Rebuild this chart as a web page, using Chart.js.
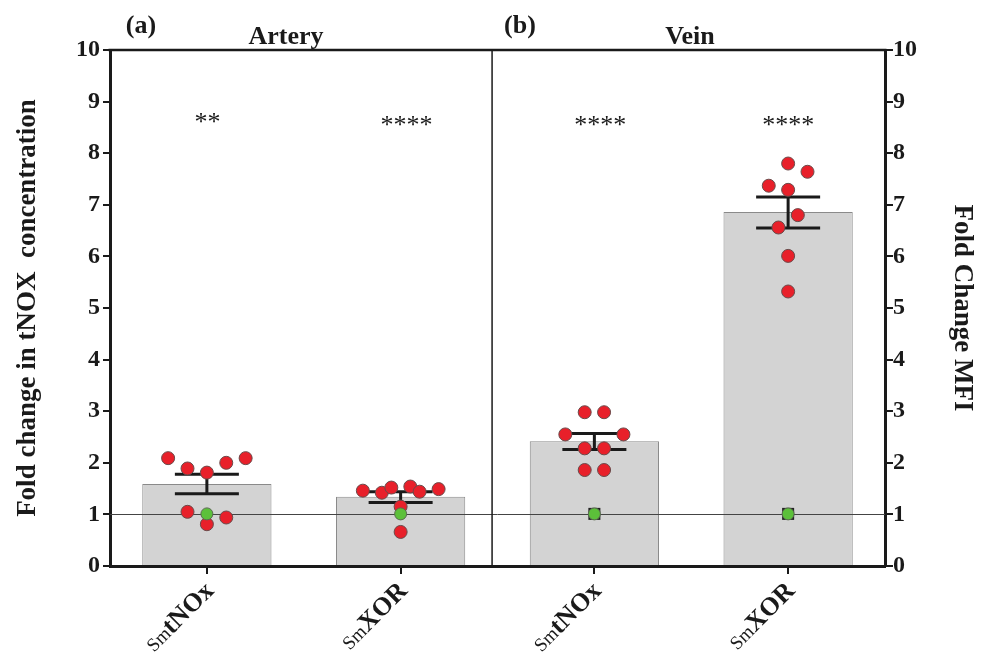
<!DOCTYPE html>
<html><head><meta charset="utf-8">
<script src="https://cdn.jsdelivr.net/npm/chart.js@4.4.0/dist/chart.umd.min.js"></script>
<style>html,body{margin:0;padding:0;background:#fff}#wrap{width:990px;height:657px}</style>
</head><body><div id="wrap"><canvas id="c" width="990" height="657"></canvas></div>
<script>
// ---- data ----
const categories = ['SmtNOx', 'SmXOR', 'SmtNOx', 'SmXOR'];
const labelSmall = ['Sm', 'Sm', 'Sm', 'Sm'];
const labelBold = ['tNOx', 'XOR', 'tNOx', 'XOR'];
const barMeans = [1.59, 1.34, 2.42, 6.86];
const errUpper = [1.78, 1.44, 2.57, 7.15];
const errLower = [1.40, 1.23, 2.26, 6.55];
// individual points: offsets from category centre, and values
const red0Off = [-0.2, -0.1, 0, 0.1, 0.2, -0.1, 0, 0.1];
const red0Y   = [2.09, 1.89, 1.81, 2.00, 2.09, 1.05, 0.81, 0.94];
const red1Off = [-0.195, -0.097, -0.048, 0.05, 0.098, 0.196, 0, 0];
const red1Y   = [1.46, 1.42, 1.52, 1.54, 1.44, 1.49, 1.15, 0.66];
const red2Off = [-0.05, 0.05, -0.15, 0.15, -0.05, 0.05, -0.05, 0.05];
const red2Y   = [2.98, 2.98, 2.55, 2.55, 2.28, 2.28, 1.86, 1.86];
const red3Off = [0, 0.1, -0.1, 0, 0.05, -0.05, 0, 0];
const red3Y   = [7.80, 7.64, 7.37, 7.29, 6.80, 6.56, 6.01, 5.32];
const greenX = [0, 1, 2, 3];
const greenY = [1.01, 1.01, 1.01, 1.01];
const squareX = [2, 3];
const squareY = [1.01, 1.01];
const refLineY = 1;
const dividerX = 1.472;
const starLabels = ['**', '****', '****', '****'];
const starX = [0.003, 1.03, 2.03, 3.0];
const starY = [8.68, 8.62, 8.62, 8.62];
const panelTags = ['(a)', '(b)'];
const panelNames = ['Artery', 'Vein'];
const leftTitle = 'Fold change in tNOX  concentration';
const rightTitle = 'Fold Change MFI';

// ---- build ----
const redGroups = [[red0Off, red0Y], [red1Off, red1Y], [red2Off, red2Y], [red3Off, red3Y]];
const redPoints = [];
redGroups.forEach((g, i) => g[0].forEach((o, k) => redPoints.push({x: i + o, y: g[1][k]})));
const greenPoints = greenX.map((x, i) => ({x, y: greenY[i]}));
const squarePoints = squareX.map((x, i) => ({x, y: squareY[i]}));

const INK = '#1a1a1a';
const SERIF = '"Liberation Serif", "Times New Roman", serif';

const overlay = {
  id: 'overlay',
  afterDatasetDraw(chart, args) {
    if (args.index !== 0) return;
    const ctx = chart.ctx, xs = chart.scales.x2, ys = chart.scales.y, a = chart.chartArea;
    ctx.save();
    // reference line
    ctx.strokeStyle = '#444';
    ctx.lineWidth = 1;
    const yr = Math.round(ys.getPixelForValue(refLineY)) + 0.5;
    ctx.beginPath(); ctx.moveTo(a.left, yr); ctx.lineTo(a.right, yr); ctx.stroke();
    // error bars
    ctx.strokeStyle = INK;
    ctx.lineWidth = 3;
    for (let i = 0; i < barMeans.length; i++) {
      const px = xs.getPixelForValue(i);
      const yu = ys.getPixelForValue(errUpper[i]);
      const yl = ys.getPixelForValue(errLower[i]);
      ctx.beginPath();
      ctx.moveTo(px, yu); ctx.lineTo(px, yl);
      ctx.moveTo(px - 32, yu); ctx.lineTo(px + 32, yu);
      ctx.moveTo(px - 32, yl); ctx.lineTo(px + 32, yl);
      ctx.stroke();
    }
    ctx.restore();
  },
  afterDraw(chart) {
    const ctx = chart.ctx, xs = chart.scales.x2, ys = chart.scales.y, a = chart.chartArea;
    ctx.save();
    // top border
    ctx.strokeStyle = INK;
    ctx.lineWidth = 2.5;
    ctx.beginPath(); ctx.moveTo(a.left - 1.5, a.top); ctx.lineTo(a.right + 1.5, a.top); ctx.stroke();
    // divider
    ctx.lineWidth = 1.5;
    const dx = xs.getPixelForValue(dividerX);
    ctx.beginPath(); ctx.moveTo(dx, a.top); ctx.lineTo(dx, a.bottom); ctx.stroke();
    // x labels
    ctx.fillStyle = INK;
    ctx.textBaseline = 'alphabetic';
    ctx.textAlign = 'left';
    for (let i = 0; i < categories.length; i++) {
      const px = xs.getPixelForValue(i);
      ctx.save();
      ctx.translate(px + 8, a.bottom + 26);
      ctx.rotate(-Math.PI / 4);
      ctx.font = '19px ' + SERIF;
      const w1 = ctx.measureText(labelSmall[i]).width;
      ctx.font = 'bold 26px ' + SERIF;
      const w2 = ctx.measureText(labelBold[i]).width;
      ctx.font = '19px ' + SERIF;
      ctx.fillText(labelSmall[i], -(w1 + w2), 0);
      ctx.font = 'bold 26px ' + SERIF;
      ctx.fillText(labelBold[i], -w2, 0);
      ctx.restore();
    }
    // significance stars
    ctx.font = '26px ' + SERIF;
    ctx.textAlign = 'center';
    ctx.textBaseline = 'middle';
    for (let i = 0; i < starLabels.length; i++) {
      ctx.fillText(starLabels[i], xs.getPixelForValue(starX[i]), ys.getPixelForValue(starY[i]) + 5);
    }
    // panel labels
    ctx.textBaseline = 'alphabetic';
    ctx.font = 'bold 26px ' + SERIF;
    ctx.fillText(panelTags[0], 141, 33);
    ctx.fillText(panelTags[1], 520, 33);
    ctx.fillText(panelNames[0], 286, 44);
    ctx.fillText(panelNames[1], 690, 44);
    ctx.restore();
  }
};

const yCommon = (pos, title, width) => ({
  type: 'linear', position: pos, min: 0, max: 10,
  ticks: {stepSize: 1, color: INK, padding: pos === 'left' ? 3 : 0,
          font: {family: SERIF, size: 24, weight: 'bold'}},
  grid: {drawOnChartArea: false, drawTicks: true, tickLength: pos === 'left' ? 7 : 8,
         color: INK, lineWidth: 2, tickWidth: 2},
  border: {display: true, color: INK, width: 3},
  title: {display: true, text: title, color: INK,
          font: {family: SERIF, size: 27, weight: 'bold'}, padding: {top: 12, bottom: 0}},
  afterFit(s) { s.width = width; }
});

new Chart(document.getElementById('c'), {
  type: 'bar',
  data: {
    labels: categories,
    datasets: [
      {type: 'bar', data: barMeans, xAxisID: 'x', yAxisID: 'y', order: 10, grouped: false,
       backgroundColor: '#d3d3d3', borderColor: '#8a8a8a', borderWidth: 1,
       barPercentage: 0.667, categoryPercentage: 1},
      {type: 'scatter', data: squarePoints, xAxisID: 'x2', yAxisID: 'y', order: 3,
       pointStyle: 'rect', pointRadius: 8.5, backgroundColor: '#222', borderColor: '#222', borderWidth: 0},
      {type: 'scatter', data: redPoints, xAxisID: 'x2', yAxisID: 'y', order: 2,
       pointStyle: 'circle', pointRadius: 6.5, backgroundColor: '#e8202a', borderColor: '#6a4a4a', borderWidth: 1},
      {type: 'scatter', data: greenPoints, xAxisID: 'x2', yAxisID: 'y', order: 1,
       pointStyle: 'circle', pointRadius: 6, backgroundColor: '#5cc03a', borderColor: '#5a6a50', borderWidth: 1}
    ]
  },
  options: {
    responsive: false,
    animation: false,
    layout: {padding: {top: 50, left: 0, right: 0, bottom: 0}},
    plugins: {legend: {display: false}, tooltip: {enabled: false}},
    scales: {
      x: {type: 'category', offset: true,
          grid: {offset: false, drawOnChartArea: false, drawTicks: true, tickLength: 8,
                 color: INK, lineWidth: 2, tickWidth: 2},
          border: {display: true, color: INK, width: 3},
          ticks: {display: false},
          afterFit(s) { s.height = 91; }},
      x2: {type: 'linear', display: false, offset: false, min: -0.5, max: 3.5,
           grid: {offset: false}},
      y: yCommon('left', leftTitle, 110),
      y2: yCommon('right', rightTitle, 105)
    }
  },
  plugins: [overlay]
});
</script>
</body></html>
